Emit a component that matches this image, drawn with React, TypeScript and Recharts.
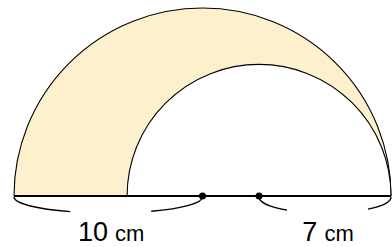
import React from 'react';
import { ScatterChart, Scatter, XAxis, YAxis } from 'recharts';

// base line runs from 0 to 20 cm, semicircles stand on it
const semicircles = [
  { x: 10, y: 0, r: 10, fill: '#FDF0CD' },
  { x: 13, y: 0, r: 7, fill: '#FFFFFF' },
];

// centre points marked on the base line
const centres = [
  { x: 10, y: 0 },
  { x: 13, y: 0 },
];

// measurement braces under the base line
const measures = [
  { from: 0, to: 10, value: '10', unit: 'cm' },
  { from: 13, to: 20, value: '7', unit: 'cm' },
];

const W = 392;
const H = 247;
const margin = { top: 8, right: 1, bottom: 51, left: 14 };
const X_MAX = 20;
const Y_MAX = 10;
// pixels per cm on each axis
const KX = (W - margin.left - margin.right) / X_MAX;
const KY = (H - margin.top - margin.bottom) / Y_MAX;

const font = '"Liberation Sans", Arial, sans-serif';

const SemiShape = (props: any) => {
  const { cx, cy, payload } = props;
  const rx = payload.r * KX;
  const ry = payload.r * KY;
  const arc = `M ${cx - rx} ${cy} A ${rx} ${ry} 0 0 1 ${cx + rx} ${cy}`;
  return (
    <g>
      <path d={`${arc} Z`} fill={payload.fill} stroke="none" />
      <path d={arc} fill="none" stroke="#000" strokeWidth={1.1} />
      <line x1={cx - rx} y1={cy} x2={cx + rx} y2={cy} stroke="#000" strokeWidth={1.8} />
    </g>
  );
};

const DotShape = (props: any) => {
  const { cx, cy } = props;
  return <circle cx={cx} cy={cy} r={3.5} fill="#000" />;
};

const BraceShape = (props: any) => {
  const { cx, cy, payload } = props;
  const rx = ((payload.to - payload.from) / 2) * KX;
  const ry = 16;
  const textX = cx + 3;
  const g1 = textX - 41;
  const g2 = textX + 40;
  const yAt = (x: number) => cy + 1 + ry * Math.sqrt(Math.max(0, 1 - ((x - cx) / rx) ** 2));
  const left = `M ${cx - rx} ${cy + 1} A ${rx} ${ry} 0 0 0 ${g1} ${yAt(g1)}`;
  const right = `M ${g2} ${yAt(g2)} A ${rx} ${ry} 0 0 0 ${cx + rx} ${cy + 1}`;
  return (
    <g>
      <path d={left} fill="none" stroke="#000" strokeWidth={1.4} />
      <path d={right} fill="none" stroke="#000" strokeWidth={1.4} />
      <text x={textX} y={cy + 45} textAnchor="middle" fontFamily={font} fill="#000">
        <tspan fontSize={27}>{payload.value}</tspan>
        <tspan fontSize={22} dx={7}>{payload.unit}</tspan>
      </text>
    </g>
  );
};

const braceData = measures.map(m => ({ ...m, x: (m.from + m.to) / 2, y: 0 }));

const App: React.FC = () => {
  return (
    <div style={{ position: 'absolute', left: 0, top: 0, width: W, height: H, background: '#fff' }}>
      <ScatterChart width={W} height={H} margin={margin}>
        <XAxis type="number" dataKey="x" domain={[0, X_MAX]} hide />
        <YAxis type="number" dataKey="y" domain={[0, Y_MAX]} hide />
        <Scatter data={semicircles} shape={<SemiShape />} isAnimationActive={false} />
        <Scatter data={braceData} shape={<BraceShape />} isAnimationActive={false} />
        <Scatter data={centres} shape={<DotShape />} isAnimationActive={false} />
      </ScatterChart>
    </div>
  );
};

export default App;
